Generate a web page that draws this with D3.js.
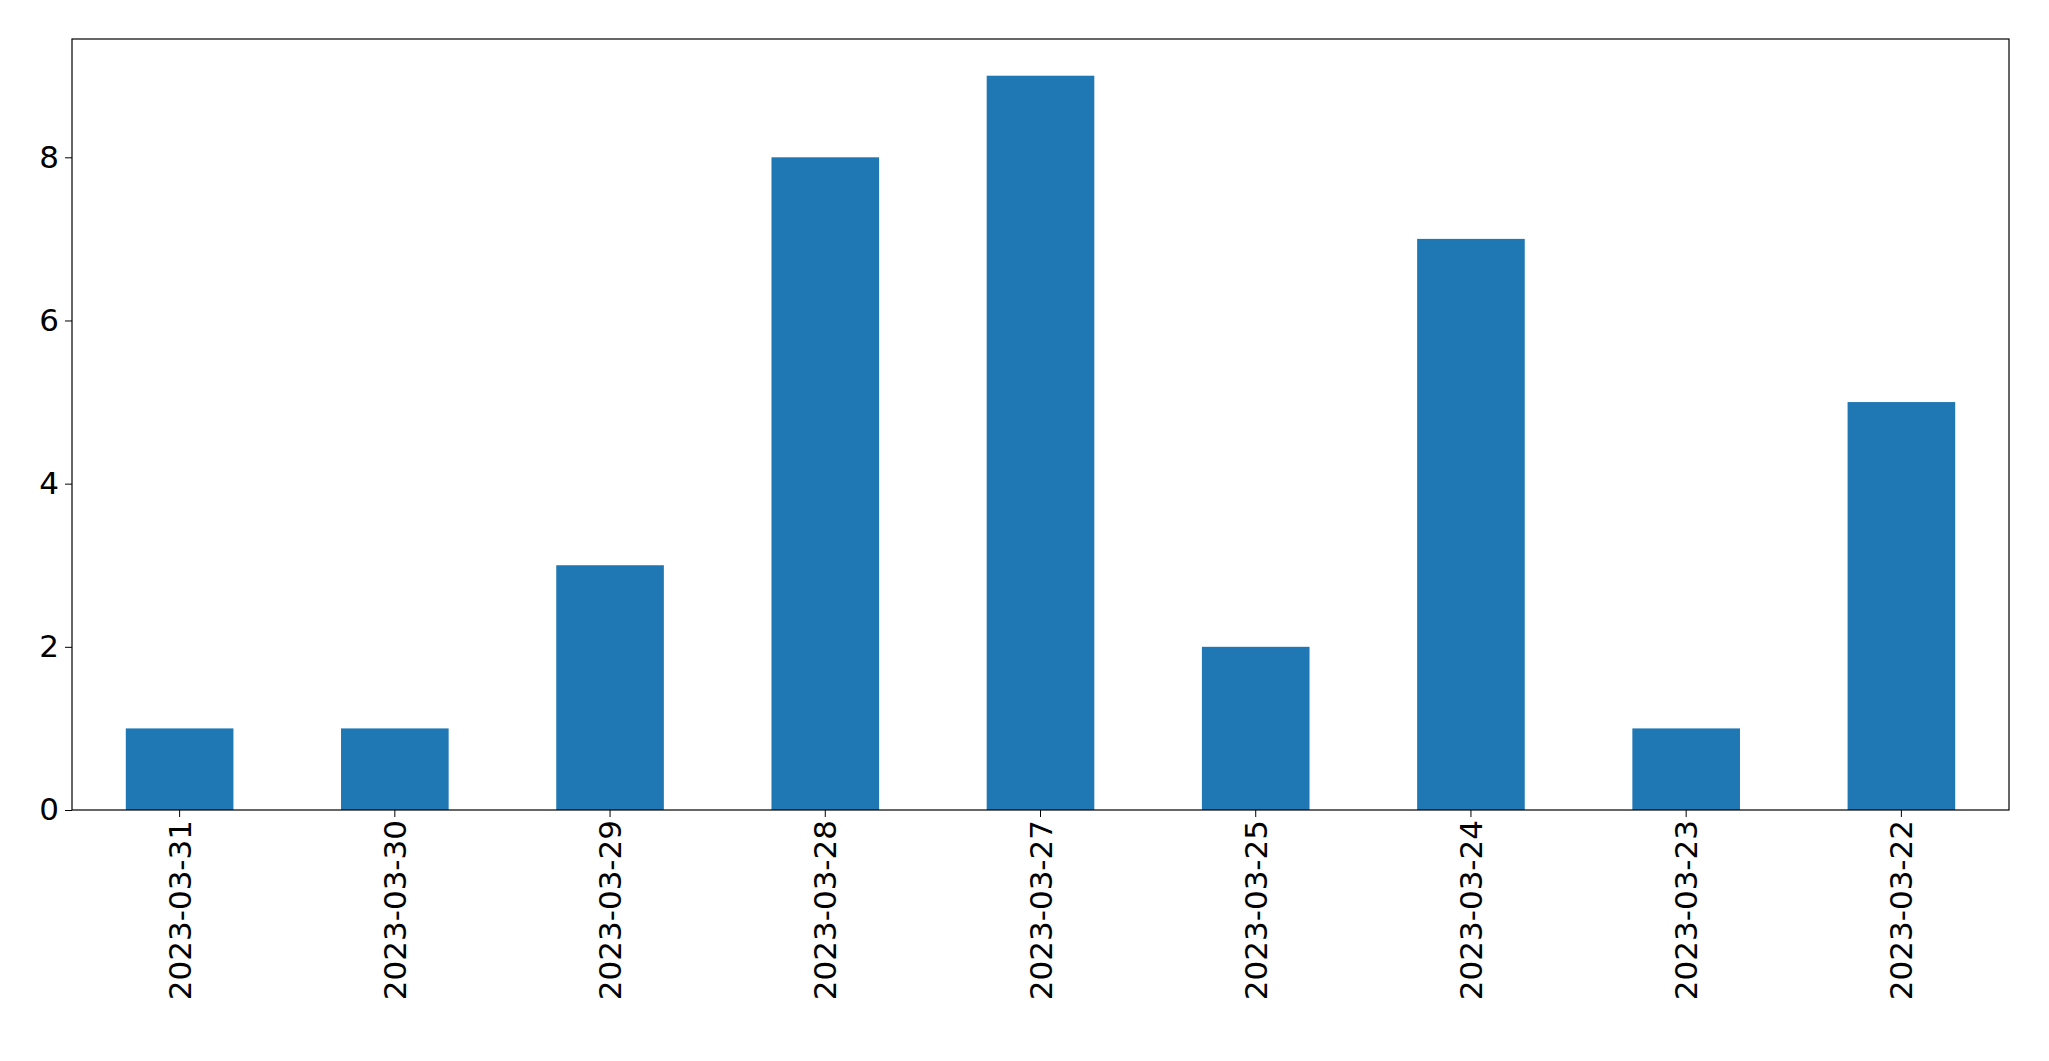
<!DOCTYPE html><html><head><script src="https://cdn.jsdelivr.net/npm/d3@7"></script>
<style>body{margin:0;background:#fff}</style></head><body><svg id="c" width="2049" height="1061"></svg>
<script>
const categories=["2023-03-31","2023-03-30","2023-03-29","2023-03-28","2023-03-27","2023-03-25","2023-03-24","2023-03-23","2023-03-22"];
const values=[1,1,3,8,9,2,7,1,5];
const yTicks=[0,2,4,6,8];
const m={l:72,r:2049-2009,t:39,b:1061-810};
const W=2049,H=1061;
const svg=d3.select("#c");
const x=d3.scaleBand().domain(categories).range([m.l,W-m.r]).paddingInner(0.5).paddingOuter(0.25);
const y=d3.scaleLinear().domain([0,9.45]).range([H-m.b,m.t]);
svg.selectAll("rect.bar").data(values).enter().append("rect").attr("class","bar")
 .attr("x",(d,i)=>x(categories[i])).attr("width",x.bandwidth())
 .attr("y",d=>y(d)).attr("height",d=>y(0)-y(d)).attr("fill","#1f77b4");
const font="'DejaVu Sans',sans-serif";
const gx=svg.append("g").attr("transform",`translate(0,${H-m.b})`).call(d3.axisBottom(x).tickSize(7).tickPadding(8));
gx.select(".domain").remove();
gx.selectAll("text").attr("font-size",31).attr("font-family",font).attr("fill","#000")
 .attr("transform","rotate(-90)").attr("text-anchor","end").attr("dx","-10").attr("dy","-0.0em").attr("x",0).attr("y",0)
 .attr("dominant-baseline","central");
const gy=svg.append("g").attr("transform",`translate(${m.l},0)`).call(d3.axisLeft(y).tickValues(yTicks).tickSize(7).tickPadding(6));
gy.select(".domain").remove();
gy.selectAll("text").attr("font-size",31).attr("font-family",font).attr("fill","#000");
svg.append("rect").attr("x",m.l).attr("y",m.t).attr("width",W-m.r-m.l).attr("height",H-m.b-m.t).attr("fill","none").attr("stroke","#000").attr("stroke-width",1.2);
</script></body></html>
